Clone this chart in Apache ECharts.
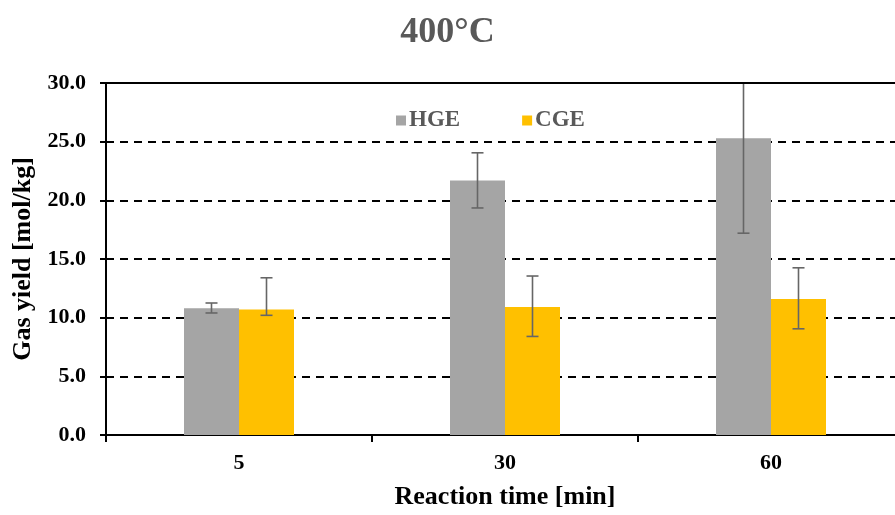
<!DOCTYPE html>
<html>
<head>
<meta charset="utf-8">
<script src="https://cdn.jsdelivr.net/npm/echarts@6/dist/echarts.min.js"></script>
<style>
  html, body { margin: 0; padding: 0; background: #fff; }
  #chart { width: 895px; height: 515px; }
</style>
</head>
<body>
<div id="chart"></div>
<script>
// Reaction times (min) on the category axis
const categories = ['5', '30', '60'];
// Gas yields [mol/kg]
const hgeValues = [10.8, 21.7, 25.3];
const cgeValues = [10.7, 10.9, 11.6];
// Error bar ends [mol/kg]
const hgeLow = [10.4, 19.35, 17.2];
const hgeHigh = [11.25, 24.05, 33.4];
const cgeLow = [10.2, 8.4, 9.05];
const cgeHigh = [13.4, 13.55, 14.25];
// Y-axis ticks
const yMin = 0, yMax = 30, yStep = 5;

const FONT = '"Liberation Serif", "Times New Roman", serif';
const BAR_W = 55;

function errorSeries(name, low, high, side) {
  return {
    type: 'custom',
    name: name + ' error',
    z: 5,
    clip: true,
    data: categories.map((c, i) => [i, low[i], high[i]]),
    renderItem: function (params, api) {
      const idx = api.value(0);
      const lo = api.coord([idx, api.value(1)]);
      const hi = api.coord([idx, api.value(2)]);
      const x = lo[0] + side * BAR_W / 2;
      const cap = 6;
      const style = { stroke: '#666666', lineWidth: 1.6 };
      return {
        type: 'group',
        children: [
          { type: 'line', shape: { x1: x, y1: lo[1], x2: x, y2: hi[1] }, style },
          { type: 'line', shape: { x1: x - cap, y1: lo[1], x2: x + cap, y2: lo[1] }, style },
          { type: 'line', shape: { x1: x - cap, y1: hi[1], x2: x + cap, y2: hi[1] }, style }
        ]
      };
    }
  };
}

const chart = echarts.init(document.getElementById('chart'));
chart.setOption({
  animation: false,
  title: {
    text: '400°C',
    left: 'center',
    top: 10,
    textStyle: { fontFamily: FONT, fontSize: 36, fontWeight: 'bold', color: '#595959' }
  },
  legend: {
    top: 104,
    left: 391,
    itemGap: 62,
    itemWidth: 10,
    itemHeight: 10,
    icon: 'rect',
    data: ['HGE', 'CGE'],
    textStyle: { fontFamily: FONT, fontSize: 23, fontWeight: 'bold', color: '#595959', padding: [0, 0, 0, -2] }
  },
  grid: { left: 106, right: -9, top: 83, bottom: 80, outerBoundsMode: 'none', containLabel: false },
  xAxis: {
    type: 'category',
    data: categories,
    name: 'Reaction time [min]',
    nameLocation: 'middle',
    nameGap: 49,
    nameTextStyle: { fontFamily: FONT, fontSize: 26, fontWeight: 'bold', color: '#000' },
    axisLine: { lineStyle: { color: '#000', width: 2 } },
    axisTick: { show: true, length: 7, lineStyle: { color: '#000', width: 2 } },
    axisLabel: { fontFamily: FONT, fontSize: 22, fontWeight: 'bold', color: '#000', margin: 17 }
  },
  yAxis: {
    type: 'value',
    min: yMin,
    max: yMax,
    interval: yStep,
    name: 'Gas yield [mol/kg]',
    nameLocation: 'middle',
    nameGap: 69,
    nameTextStyle: { fontFamily: FONT, fontSize: 26, fontWeight: 'bold', color: '#000' },
    axisLine: { show: true, lineStyle: { color: '#000', width: 2 } },
    axisTick: { show: true, length: 6, lineStyle: { color: '#000', width: 2 } },
    axisLabel: {
      fontFamily: FONT, fontSize: 22, fontWeight: 'bold', color: '#000', margin: 20,
      formatter: v => v.toFixed(1)
    },
    splitLine: {
      show: true,
      lineStyle: { color: '#000', width: 2, type: [8, 6] }
    }
  },
  series: [
    {
      name: 'HGE', type: 'bar', data: hgeValues, barWidth: BAR_W, barGap: '0%',
      itemStyle: { color: '#A5A5A5' }
    },
    {
      name: 'CGE', type: 'bar', data: cgeValues, barWidth: BAR_W, barGap: '0%',
      itemStyle: { color: '#FFC000' }
    },
    errorSeries('HGE', hgeLow, hgeHigh, -1),
    errorSeries('CGE', cgeLow, cgeHigh, 1)
  ],
  graphic: [
    // solid top border of the plot area at 30.0
    {
      type: 'line', z: 10,
      shape: { x1: 106, y1: 83, x2: 895, y2: 83 },
      style: { stroke: '#000', lineWidth: 2 }
    }
  ]
});
</script>
</body>
</html>
